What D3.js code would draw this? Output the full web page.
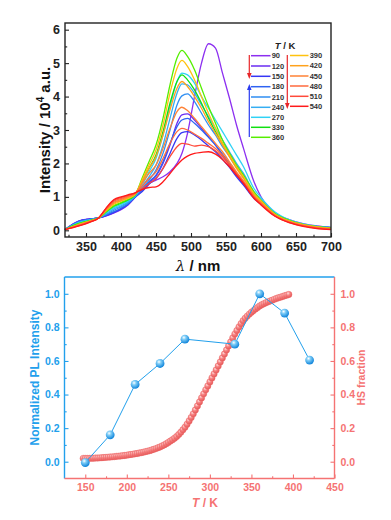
<!DOCTYPE html>
<html><head><meta charset="utf-8">
<script src="https://cdn.jsdelivr.net/npm/d3@7"></script>
<style>
body{margin:0;background:#fff}
svg{display:block}
text{font-family:"Liberation Sans",Arial,sans-serif;font-weight:bold}
</style>
</head><body>
<svg id="c" width="391" height="520"></svg>
<script>
// ---------- top panel data ----------
const wavelengths = [320,340,355,368,380,390,400,410,420,430,440,450,460,470,480,487,495,505,515,525,535,545,555,565,575,590,600,620,640,660,680,700];
const I90  = [0.02,0.28,0.34,0.37,0.44,0.52,0.62,0.76,0.98,1.20,1.40,1.50,1.60,1.75,2.00,2.30,2.90,4.00,5.00,5.58,5.45,4.70,3.95,3.15,2.45,1.45,1.00,0.52,0.32,0.20,0.13,0.09];
const I120 = [0.02,0.275,0.338,0.37,0.445,0.53,0.63,0.77,0.985,1.20,1.42,1.62,2.00,2.55,3.20,3.45,3.48,3.30,3.05,2.80,2.55,2.25,1.95,1.65,1.38,0.98,0.80,0.45,0.28,0.17,0.11,0.08];
const I150 = [0.02,0.27,0.335,0.37,0.45,0.54,0.64,0.78,0.99,1.15,1.38,1.55,1.85,2.30,2.75,2.92,2.95,2.85,2.70,2.52,2.35,2.12,1.88,1.60,1.35,0.95,0.78,0.44,0.27,0.17,0.11,0.08];
const I180 = [0.02,0.265,0.33,0.37,0.47,0.56,0.66,0.79,0.99,1.20,1.45,1.65,2.05,2.60,3.10,3.30,3.35,3.20,3.00,2.78,2.55,2.28,2.00,1.70,1.42,1.00,0.82,0.46,0.28,0.17,0.11,0.08];
const I210 = [0.02,0.25,0.32,0.37,0.49,0.60,0.70,0.82,1.01,1.25,1.50,1.80,2.30,3.00,3.75,4.02,4.08,3.85,3.50,3.15,2.85,2.50,2.20,1.88,1.58,1.10,0.88,0.48,0.29,0.18,0.11,0.08];
const I240 = [0.02,0.235,0.31,0.37,0.52,0.64,0.73,0.85,1.02,1.30,1.60,1.95,2.55,3.35,4.10,4.38,4.35,4.10,3.75,3.40,3.05,2.70,2.35,2.00,1.70,1.15,0.92,0.50,0.30,0.18,0.11,0.08];
const I270 = [0.02,0.22,0.30,0.37,0.54,0.68,0.77,0.88,1.04,1.35,1.75,2.15,2.85,3.70,4.45,4.70,4.65,4.40,4.00,3.65,3.30,2.95,2.60,2.25,1.90,1.25,0.98,0.55,0.32,0.19,0.12,0.08];
const I330 = [0.02,0.205,0.29,0.37,0.57,0.72,0.81,0.91,1.05,1.45,1.85,2.25,2.95,3.80,4.45,4.65,4.50,4.20,3.80,3.35,2.95,2.60,2.25,1.90,1.60,1.10,0.88,0.48,0.29,0.17,0.10,0.07];
const I360 = [0.02,0.20,0.285,0.37,0.58,0.74,0.83,0.925,1.06,1.55,2.05,2.55,3.35,4.35,5.15,5.38,5.20,4.80,4.25,3.70,3.20,2.70,2.30,1.95,1.65,1.15,0.90,0.50,0.30,0.18,0.11,0.07];
const I390 = [0.02,0.18,0.275,0.37,0.61,0.78,0.87,0.955,1.07,1.50,1.95,2.40,3.15,4.10,4.85,5.08,4.90,4.50,4.00,3.50,3.05,2.60,2.25,1.90,1.60,1.10,0.88,0.48,0.28,0.17,0.10,0.06];
const I420 = [0.02,0.17,0.27,0.37,0.63,0.81,0.89,0.98,1.08,1.45,1.85,2.20,2.85,3.60,4.25,4.45,4.30,4.00,3.65,3.25,2.90,2.55,2.20,1.85,1.55,1.05,0.85,0.46,0.27,0.16,0.09,0.05];
const I450 = [0.02,0.16,0.26,0.37,0.65,0.84,0.92,1.00,1.09,1.40,1.70,1.95,2.45,3.05,3.55,3.68,3.58,3.35,3.10,2.85,2.60,2.35,2.05,1.75,1.48,1.02,0.82,0.45,0.26,0.15,0.08,0.04];
const I480 = [0.02,0.15,0.25,0.37,0.67,0.87,0.95,1.02,1.10,1.32,1.55,1.75,2.15,2.60,2.95,3.05,3.00,2.88,2.75,2.60,2.45,2.25,1.98,1.70,1.45,1.00,0.80,0.44,0.25,0.14,0.07,0.04];
const I510 = [0.02,0.14,0.245,0.37,0.69,0.90,0.98,1.045,1.11,1.25,1.40,1.55,1.85,2.20,2.50,2.60,2.58,2.52,2.55,2.50,2.38,2.20,1.95,1.68,1.42,0.98,0.78,0.43,0.24,0.13,0.06,0.03];
const I540 = [0.02,0.13,0.24,0.37,0.70,0.92,1.00,1.06,1.12,1.22,1.28,1.30,1.45,1.70,1.95,2.10,2.22,2.30,2.33,2.35,2.28,2.12,1.90,1.65,1.40,0.96,0.76,0.42,0.23,0.12,0.05,0.02];
const tempLabels = ["90","120","150","180","210","240","270","330","360","390","420","450","480","510","540"];
const tempColors = ["#8c2ff0","#6a2cf2","#3636f5","#2f63f2","#2f8ef2","#35aef2","#30d2f5","#10e010","#55ee00","#ffc20e","#ffa21c","#ff8236","#ff6a3e","#ff4a3a","#ff1a1a"];
const xTicksTop = [350,400,450,500,550,600,650,700];
const yTicksTop = [0,1,2,3,4,5,6];

// ---------- bottom panel data ----------
const plT = [150,180,210,240,270,330,360,390,420];
const plV = [-0.005,0.16,0.46,0.585,0.73,0.70,1.0,0.885,0.605];
const hsT = [147.5,150,152.5,155,157.5,160,162.5,165,167.5,170,172.5,175,177.5,180,182.5,185,187.5,190,192.5,195,197.5,200,202.5,205,207.5,210,212.5,215,217.5,220,222.5,225,227.5,230,232.5,235,237.5,240,242.5,245,247.5,250,252.5,255,257.5,260,262.5,265,267.5,270,272.5,275,277.5,280,282.5,285,287.5,290,292.5,295,297.5,300,302.5,305,307.5,310,312.5,315,317.5,320,322.5,325,327.5,330,332.5,335,337.5,340,342.5,345,347.5,350,352.5,355,357.5,360,362.5,365,367.5,370,372.5,375,377.5,380,382.5,385,387.5,390,392.5,395];
const hsV = [0.020,0.020,0.020,0.020,0.021,0.021,0.022,0.022,0.023,0.024,
0.025,0.026,0.027,0.028,0.029,0.030,0.032,0.033,0.034,0.036,
0.037,0.039,0.041,0.043,0.045,0.047,0.049,0.052,0.054,0.057,
0.060,0.063,0.066,0.070,0.074,0.078,0.083,0.088,0.094,0.100,
0.107,0.115,0.123,0.131,0.140,0.150,0.162,0.175,0.190,0.205,
0.223,0.243,0.263,0.285,0.308,0.332,0.356,0.380,0.404,0.428,
0.451,0.475,0.499,0.523,0.546,0.570,0.594,0.618,0.641,0.665,
0.689,0.713,0.737,0.760,0.781,0.802,0.822,0.840,0.854,0.867,
0.879,0.890,0.900,0.910,0.919,0.928,0.935,0.941,0.947,0.952,
0.957,0.962,0.967,0.972,0.976,0.980,0.984,0.988,0.992,0.996];
const xTicksBot = [150,200,250,300,350,400,450];
const yTicksBot = [0,0.2,0.4,0.6,0.8,1.0];

const series = [I90,I120,I150,I180,I210,I240,I270,I330,I360,I390,I420,I450,I480,I510,I540];

const svg = d3.select("#c");
const BLUE = "#22a0ec", SAL = "#f57373", DARK = "#222";

// defs
const defs = svg.append("defs");
const gb = defs.append("radialGradient").attr("id","gBlue").attr("cx","38%").attr("cy","32%").attr("r","65%");
gb.append("stop").attr("offset","0%").attr("stop-color","#ffffff");
gb.append("stop").attr("offset","35%").attr("stop-color","#7fcdf7");
gb.append("stop").attr("offset","100%").attr("stop-color","#1588dc");
const gs = defs.append("radialGradient").attr("id","gSal").attr("cx","38%").attr("cy","32%").attr("r","65%");
gs.append("stop").attr("offset","0%").attr("stop-color","#ffe2e2");
gs.append("stop").attr("offset","45%").attr("stop-color","#f68484");
gs.append("stop").attr("offset","100%").attr("stop-color","#e85a5a");

function styleAxis(g,color,fs){
  g.select(".domain").remove();
  g.selectAll(".tick line").attr("stroke",color).attr("stroke-width",1.1);
  g.selectAll(".tick text").attr("fill",color).style("font-size",fs+"px").style("font-weight","bold")
   .style("font-family","'Liberation Sans',Arial,sans-serif");
}

// ================= TOP PANEL =================
const L1=65, R1=331, T1=23, B1=237;
const xs1 = d3.scaleLinear().domain([320,700]).range([L1,R1]);
const ys1 = d3.scaleLinear().domain([-0.2,6.2]).range([B1,T1]);
const gTop = svg.append("g");

const line1 = d3.line().x((d,i)=>xs1(wavelengths[i])).y(d=>ys1(d)).curve(d3.curveMonotoneX);
gTop.append("g").selectAll("path").data(series).join("path")
  .attr("d", d=>line1(d)).attr("fill","none")
  .attr("stroke",(d,i)=>tempColors[i]).attr("stroke-width",1.3);

gTop.append("g").attr("transform",`translate(0,${B1})`)
  .call(d3.axisBottom(xs1).tickValues(xTicksTop).tickSize(-4).tickPadding(5.5).tickFormat(d3.format("d")))
  .call(g=>styleAxis(g,DARK,12.5));
gTop.append("g").attr("transform",`translate(0,${B1})`)
  .call(d3.axisBottom(xs1).tickValues(d3.range(325,700,50)).tickSize(-2.2).tickFormat(""))
  .call(g=>styleAxis(g,DARK,12));
gTop.append("g").attr("transform",`translate(${L1},0)`)
  .call(d3.axisLeft(ys1).tickValues(yTicksTop).tickSize(-4).tickPadding(5).tickFormat(d3.format("d")))
  .call(g=>styleAxis(g,DARK,12.5));
gTop.append("g").attr("transform",`translate(${L1},0)`)
  .call(d3.axisLeft(ys1).tickValues(d3.range(0.5,6.1,1)).tickSize(-2.2).tickFormat(""))
  .call(g=>styleAxis(g,DARK,12));
gTop.append("rect").attr("x",L1).attr("y",T1).attr("width",R1-L1).attr("height",B1-T1)
  .attr("fill","none").attr("stroke",DARK).attr("stroke-width",1.4);

const yt = gTop.append("text").attr("transform",`translate(50,130) rotate(-90)`)
  .attr("text-anchor","middle").style("font-size","15px").attr("fill","#111");
yt.append("tspan").text("Intensity / 10");
yt.append("tspan").attr("dy",-6).style("font-size","10px").text("4");
yt.append("tspan").attr("dy",6).text(" a.u.");
const xt = gTop.append("text").attr("x",198).attr("y",271).attr("text-anchor","middle")
  .style("font-size","15px").attr("fill","#111");
xt.append("tspan").style("font-style","italic").style("font-family","'DejaVu Serif',serif").style("font-weight","normal").text("λ");
xt.append("tspan").text(" / nm");

// legend
const leg = gTop.append("g");
const lt = leg.append("text").attr("x",285).attr("y",49).attr("text-anchor","middle").style("font-size","9.5px").attr("fill","#222");
lt.append("tspan").style("font-style","italic").text("T");
lt.append("tspan").text(" / K");
const leftRows = [55.7,66,76.3,86.7,97,107.3,117.3,127.3,137.3];
const rightRows = [55.5,65.7,76,86,96.3,106.3];
tempLabels.forEach((t,i)=>{
  let xa,xb,yy;
  if(i<9){ xa=251; xb=270.5; yy=leftRows[i]; }
  else { xa=290; xb=308.5; yy=rightRows[i-9]; }
  leg.append("line").attr("x1",xa).attr("x2",xb).attr("y1",yy).attr("y2",yy)
    .attr("stroke",tempColors[i]).attr("stroke-width",1.5);
  leg.append("text").attr("x",xb+1.2).attr("y",yy+2.6).style("font-size","7.5px").attr("fill","#333").text(t);
});
function arrow(x,ya,yb,color){
  const dir = yb>ya?1:-1;
  leg.append("line").attr("x1",x).attr("x2",x).attr("y1",ya).attr("y2",yb-dir*5)
    .attr("stroke",color).attr("stroke-width",1.2);
  leg.append("path").attr("d",`M${x-2.3},${yb-dir*6}L${x+2.3},${yb-dir*6}L${x},${yb}Z`).attr("fill",color);
}
arrow(249.3,55,79,"#e8262a");
arrow(249.3,137,84,"#2a3af0");
arrow(287.3,55,109,"#e8262a");

// ================= BOTTOM PANEL =================
const L2=64.5, R2=334.5, T2=277, B2=478.5;
const xs2 = d3.scaleLinear().domain([125,450]).range([L2,R2]);
const ys2 = d3.scaleLinear().domain([-0.1,1.1]).range([B2,T2]);
const gBot = svg.append("g");

gBot.append("g").selectAll("circle").data(hsV).join("circle")
  .attr("cx",(d,i)=>xs2(hsT[i])).attr("cy",d=>ys2(d)).attr("r",3.2)
  .attr("fill","url(#gSal)").attr("stroke","#ec6a6a").attr("stroke-width",0.4);

const line2 = d3.line().x((d,i)=>xs2(plT[i])).y(d=>ys2(d));
gBot.append("path").attr("d",line2(plV)).attr("fill","none").attr("stroke",BLUE).attr("stroke-width",1);
gBot.append("g").selectAll("circle").data(plV).join("circle")
  .attr("cx",(d,i)=>xs2(plT[i])).attr("cy",d=>ys2(d)).attr("r",4.4)
  .attr("fill","url(#gBlue)");

gBot.append("g").attr("transform",`translate(0,${B2})`)
  .call(d3.axisBottom(xs2).tickValues(xTicksBot).tickSize(-4).tickPadding(5).tickFormat(d3.format("d")))
  .call(g=>styleAxis(g,SAL,10.5));
gBot.append("g").attr("transform",`translate(0,${B2})`)
  .call(d3.axisBottom(xs2).tickValues(d3.range(175,450,50)).tickSize(-2.2).tickFormat(""))
  .call(g=>styleAxis(g,SAL,10));
gBot.append("g").attr("transform",`translate(${L2},0)`)
  .call(d3.axisLeft(ys2).tickValues(yTicksBot).tickSize(-4).tickPadding(5).tickFormat(d3.format(".1f")))
  .call(g=>styleAxis(g,BLUE,10.5));
gBot.append("g").attr("transform",`translate(${L2},0)`)
  .call(d3.axisLeft(ys2).tickValues([0.1,0.3,0.5,0.7,0.9]).tickSize(-2.2).tickFormat(""))
  .call(g=>styleAxis(g,BLUE,10));
gBot.append("g").attr("transform",`translate(${R2},0)`)
  .call(d3.axisRight(ys2).tickValues(yTicksBot).tickSize(-4).tickPadding(6).tickFormat(d3.format(".1f")))
  .call(g=>styleAxis(g,SAL,10.5));
gBot.append("g").attr("transform",`translate(${R2},0)`)
  .call(d3.axisRight(ys2).tickValues([0.1,0.3,0.5,0.7,0.9]).tickSize(-2.2).tickFormat(""))
  .call(g=>styleAxis(g,SAL,10));
gBot.append("line").attr("x1",L2).attr("x2",R2).attr("y1",T2).attr("y2",T2).attr("stroke",BLUE).attr("stroke-width",1.4);
gBot.append("line").attr("x1",L2).attr("x2",L2).attr("y1",T2).attr("y2",B2).attr("stroke",BLUE).attr("stroke-width",1.4);
gBot.append("line").attr("x1",L2).attr("x2",R2).attr("y1",B2).attr("y2",B2).attr("stroke",SAL).attr("stroke-width",1.4);
gBot.append("line").attr("x1",R2).attr("x2",R2).attr("y1",T2).attr("y2",B2).attr("stroke",SAL).attr("stroke-width",1.4);

gBot.append("text").attr("transform",`translate(39,377.5) rotate(-90)`).attr("text-anchor","middle")
  .style("font-size","12px").attr("fill",BLUE).text("Normalized PL Intensity");
gBot.append("text").attr("transform",`translate(365,377.5) rotate(-90)`).attr("text-anchor","middle")
  .style("font-size","10.5px").attr("fill",SAL).text("HS fraction");
const tt = gBot.append("text").attr("x",205).attr("y",507).attr("text-anchor","middle")
  .style("font-size","12px").attr("fill",SAL);
tt.append("tspan").style("font-style","italic").text("T");
tt.append("tspan").text(" / K");
</script>
</body></html>
